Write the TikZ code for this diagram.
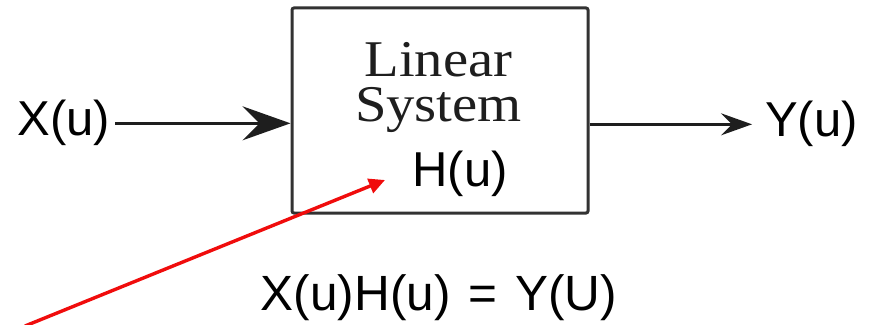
\documentclass[tikz,border=0pt]{standalone}
\usepackage{fontspec}
\setmainfont{Liberation Sans}
\newfontfamily\serifsys[FakeStretch=1.1]{Liberation Serif}
\usetikzlibrary{arrows.meta}
\definecolor{blkline}{RGB}{30, 30, 30}
\definecolor{boxline}{RGB}{50, 50, 50}
\definecolor{redptr}{RGB}{240, 12, 12}
\newcommand\eqfont{\fontsize{49.5}{58}\selectfont\spaceskip=18pt plus 0pt minus 0pt\relax}

\begin{document}
\begin{tikzpicture}[x=1pt, y=1pt,
    sysbox/.style={draw=boxline, line width=3pt, rounded corners=2pt,
                   minimum width=296pt, minimum height=205pt, inner sep=0pt},
    sigtext/.style={font=\fontsize{49}{58}\selectfont, inner sep=5pt,
                    anchor=base},
    systext/.style={font=\serifsys\fontsize{51.5}{45}\selectfont,
                    inner sep=0pt, anchor=base, align=center, text=blkline},
    sigarrow/.style={draw=blkline, line width=2.5pt},
    redarrow/.style={draw=redptr, line width=3.4pt,
                     -{Triangle[length=16pt, width=15pt]}},
]

% fixed frame, same proportions as the source image
\useasboundingbox[fill=white] (0,0) rectangle (874,324);

% ================================================================
% SYSTEM BLOCK
% ================================================================
\node[sysbox] (sys) at (440,213.5) {};
\node[systext] (lbl) at (438.5,202) {Linear\\System}; % base = last line
\node[sigtext] (hu) at (460,137) {H(u)};

% ================================================================
% INPUT / OUTPUT SIGNALS
% ================================================================
\node[sigtext] (xin) at (64,188) {X(u)};
\node[sigtext] (yout) at (811.5,187) {Y(u)};

\draw[sigarrow, -{Stealth[length=48pt, width=34pt, inset=17pt]}]
  (xin.east) -- (xin.east -| sys.west);
\draw[sigarrow, -{Stealth[length=31pt, width=22pt, inset=11pt]},
      shorten >=8pt]
  (yout.west -| sys.east) -- (yout.west);

% ================================================================
% RELATION BELOW THE BLOCK
% ================================================================
\node[sigtext, font=\eqfont] (eq) at (439,14) {X(u)H(u) = Y(U)};

% red pointer onto H(u)
\coordinate (redfoot) at (25,-2);
\coordinate (redtip) at (385,144);
\draw[redarrow] (redfoot) -- (redtip);

\end{tikzpicture}
\end{document}
